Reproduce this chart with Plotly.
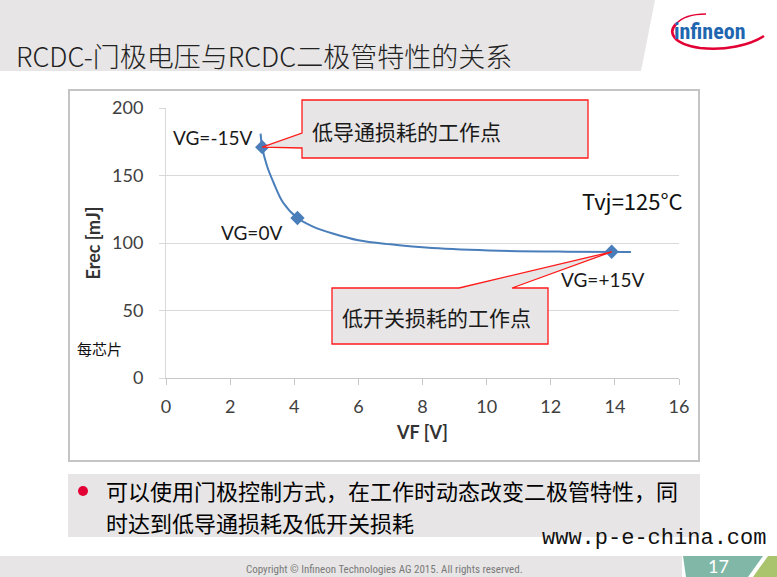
import plotly.graph_objects as go

# ---- data -------------------------------------------------------------
vf_curve = [2.95, 3.0, 3.15, 3.35, 3.65, 4.1, 4.6, 5.2, 6.0, 7.0, 8.3, 10.4, 12.5, 14.5]
erec_curve = [181, 171, 157, 145, 130, 118.5, 112, 107, 102, 99, 96.3, 94.3, 93.6, 93.4]

vf_points = [3.0, 4.1, 13.9]
erec_points = [171, 118.5, 93.5]
point_labels = ["VG=-15V", "VG=0V", "VG=+15V"]

x_ticks = [0, 2, 4, 6, 8, 10, 12, 14, 16]
y_ticks = [0, 50, 100, 150, 200]

title_text = "RCDC-门极电压与RCDC二极管特性的关系"
callout_low_cond = "低导通损耗的工作点"
callout_low_sw = "低开关损耗的工作点"
temp_text = "Tvj=125°C"
per_chip = "每芯片"
bullet_lines = ["可以使用门极控制方式，在工作时动态改变二极管特性，同",
                "时达到低导通损耗及低开关损耗"]
site_text = "www.p-e-china.com"
copyright_text = "Copyright © Infineon Technologies AG 2015. All rights reserved."
page_no = "17"

# ---- page geometry ----------------------------------------------------
W, H = 777, 577
L, R, T, B = 166, 98, 108, 199
PW, PH = W - L - R, H - T - B
X0, X1, Y0, Y1 = 0, 16, 0, 200

GRAY = "#e7e5e5"
BLUE = "#4a7ebb"
RED = "#ff1a1a"
CJK = "Noto Sans CJK SC"
LAT = "Lato"


def px(X):
    return (X - L) / PW


def py(Y):
    return (H - B - Y) / PH


def dx(x):
    return (x - X0) / (X1 - X0)


def dy(y):
    return (y - Y0) / (Y1 - Y0)


def path(cmds):
    out = []
    for c in cmds:
        if isinstance(c, str):
            out.append(c)
        else:
            out.append(f"{c[0]:.5f},{c[1]:.5f}")
    return " ".join(out)


def P(X, Y):
    return (px(X), py(Y))


fig = go.Figure()

fig.add_trace(go.Scatter(
    x=vf_curve, y=erec_curve, mode="lines",
    line=dict(color=BLUE, width=2, shape="spline", smoothing=1.0),
    hoverinfo="skip", showlegend=False))
fig.add_trace(go.Scatter(
    x=vf_points, y=erec_points, mode="markers",
    marker=dict(symbol="diamond", size=11, color=BLUE),
    showlegend=False))

shapes = []
# header band
shapes.append(dict(type="path", xref="paper", yref="paper", layer="below",
                   path=path(["M", P(0, 0), "L", P(655, 0), "L", P(641, 71), "L", P(0, 71), "Z"]),
                   fillcolor=GRAY, line=dict(width=0)))
# chart frame
shapes.append(dict(type="rect", xref="paper", yref="paper", layer="below",
                   x0=px(69), x1=px(699), y0=py(461), y1=py(90),
                   fillcolor="white", line=dict(color="#c4c4c4", width=2)))
# bullet box
shapes.append(dict(type="rect", xref="paper", yref="paper", layer="below",
                   x0=px(68), x1=px(700), y0=py(537), y1=py(474),
                   fillcolor=GRAY, line=dict(width=0)))
shapes.append(dict(type="circle", xref="paper", yref="paper", layer="above",
                   x0=px(78), x1=px(88), y0=py(496), y1=py(486),
                   fillcolor="#e30034", line=dict(width=0)))
# footer
shapes.append(dict(type="rect", xref="paper", yref="paper", layer="below",
                   x0=px(0), x1=px(682), y0=py(577), y1=py(556),
                   fillcolor=GRAY, line=dict(width=0)))
shapes.append(dict(type="path", xref="paper", yref="paper", layer="below",
                   path=path(["M", P(683, 556), "L", P(763, 556), "L", P(748, 577), "L", P(686, 577), "Z"]),
                   fillcolor="#80b7a6", line=dict(width=0)))
shapes.append(dict(type="path", xref="paper", yref="paper", layer="below",
                   path=path(["M", P(768, 556), "L", P(777, 556), "L", P(777, 577), "L", P(753, 577), "Z"]),
                   fillcolor="#a9c46c", line=dict(width=0)))
# logo swoosh (open stroked arcs)
shapes.append(dict(type="path", xref="paper", yref="paper", layer="above",
                   path=path(["M", P(676, 24), "C", P(668, 32), P(672, 44), P(700, 48),
                              "C", P(725, 51), P(750, 45), P(764, 36)]),
                   fillcolor="rgba(0,0,0,0)", line=dict(color="#e30034", width=2.6)))
shapes.append(dict(type="path", xref="paper", yref="paper", layer="above",
                   path=path(["M", P(676, 24), "C", P(683, 16), P(695, 14), P(706, 14)]),
                   fillcolor="rgba(0,0,0,0)", line=dict(color="#e30034", width=1.3)))

# callout boxes with pointers to the operating points
tip1 = (dx(vf_points[0]), dy(erec_points[0]))
shapes.append(dict(type="path", xref="paper", yref="paper", layer="above",
                   path=path(["M", P(302, 100), "L", P(588, 100), "L", P(588, 158), "L", P(302, 158),
                              "L", P(302, 148), "L", tip1, "L", P(302, 133), "Z"]),
                   fillcolor=GRAY, line=dict(color=RED, width=1.3)))
tip2 = (dx(vf_points[2]), dy(erec_points[2]))
shapes.append(dict(type="path", xref="paper", yref="paper", layer="above",
                   path=path(["M", P(332, 288), "L", P(459, 288), "L", tip2, "L", P(512, 288),
                              "L", P(548, 288), "L", P(548, 344), "L", P(332, 344), "Z"]),
                   fillcolor=GRAY, line=dict(color=RED, width=1.3)))

ann = []


def text(X, Y, s, size, color="#1a1a1a", family=CJK, anchor="left", weight=None, align="left"):
    f = dict(size=size, color=color, family=family)
    if weight:
        f["weight"] = weight
    ann.append(dict(xref="paper", yref="paper", x=px(X), y=py(Y), text=s,
                    showarrow=False, xanchor=anchor, yanchor="middle", font=f, align=align))


text(14, 55, title_text, 27, color="#222222", weight=300)
text(710, 31, "infineon", 22, color="#1f66b0",
     family="Liberation Sans Narrow, Roboto Condensed, Roboto", anchor="center", weight="bold")
text(310, 131, callout_low_cond, 21)
text(340, 317, callout_low_sw, 21)
text(632, 200, temp_text, 22, color="#111111", family=CJK, anchor="center")
text(75, 348, per_chip, 15, color="#111111")
text(104, 490, bullet_lines[0], 22, color="#000000")
text(104, 522, bullet_lines[1], 22, color="#000000")
text(540, 538, site_text, 22, color="#111111", family="Liberation Mono, DejaVu Sans Mono")
text(384, 569, copyright_text, 11, color="#7a7a7a",
     family="Liberation Sans Narrow, Roboto Condensed, Roboto", anchor="center")
text(718, 566, page_no, 18, color="white", family=LAT, anchor="center")

# labels next to the operating points
shifts = [(-50, 10), (-46, -14), (-9, -28)]
for x, y, s, (sx, sy) in zip(vf_points, erec_points, point_labels, shifts):
    ann.append(dict(x=x, y=y, xref="x", yref="y", text=s, showarrow=False,
                    xanchor="center", yanchor="middle", xshift=sx, yshift=sy,
                    font=dict(size=19, color="#1a1a1a", family=LAT)))

fig.update_layout(
    width=W, height=H,
    margin=dict(l=L, r=R, t=T, b=B, autoexpand=False),
    paper_bgcolor="white", plot_bgcolor="rgba(0,0,0,0)",
    shapes=shapes, annotations=ann, showlegend=False,
    xaxis=dict(range=[X0, X1], tickvals=x_ticks, showgrid=False, zeroline=False,
               showline=True, linecolor="#c8c8c8", linewidth=1,
               ticks="outside", ticklen=6, tickcolor="#c8c8c8",
               tickfont=dict(family=LAT, size=18, color="#404040"),
               ticklabelstandoff=6,
               title=dict(text="<b>VF [V]</b>", standoff=10,
                          font=dict(family=LAT, size=18, color="#333333"))),
    yaxis=dict(range=[Y0, Y1], tickvals=y_ticks, showgrid=True, gridcolor="#d9d9d9",
               gridwidth=1, zeroline=False, showline=True, linecolor="#d9d9d9",
               ticks="outside", ticklen=6, tickcolor="#d9d9d9",
               tickfont=dict(family=LAT, size=18, color="#404040"),
               ticklabelstandoff=12,
               title=dict(text="<b>Erec [mJ]</b>", standoff=6,
                          font=dict(family=LAT, size=18, color="#333333"))),
)

fig.write_html("out.html")
